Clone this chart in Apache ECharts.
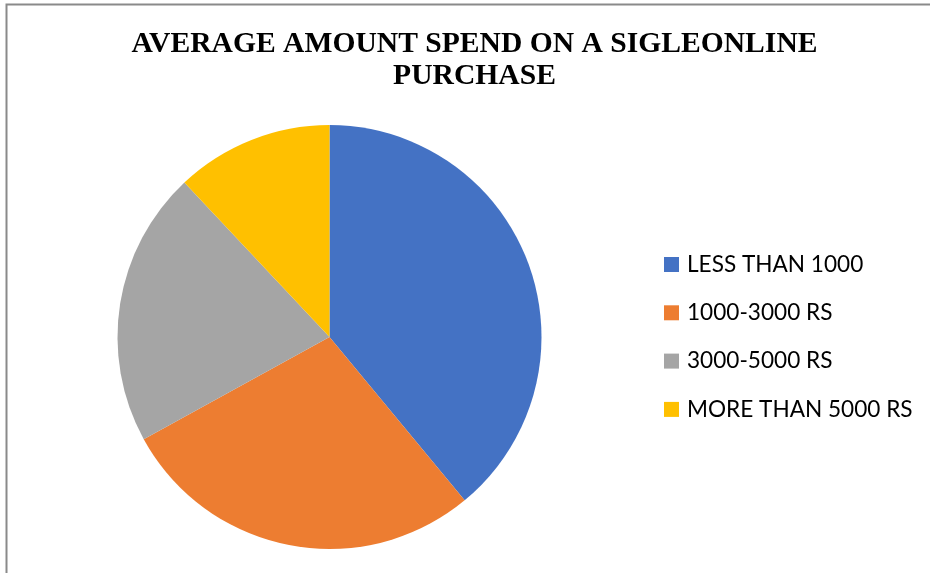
<!DOCTYPE html>
<html>
<head>
<meta charset="utf-8">
<script src="https://cdn.jsdelivr.net/npm/echarts@6/dist/echarts.min.js"></script>
<style>
  html, body { margin: 0; padding: 0; background: #ffffff; }
  #chart { width: 930px; height: 573px; }
</style>
</head>
<body>
<div id="chart"></div>
<script>
// Share of respondents by typical spend on one online purchase (%)
const categories = ['LESS THAN 1000', '1000-3000 RS', '3000-5000 RS', 'MORE THAN 5000 RS'];
const shares = [39, 28, 21, 12];
const sliceColors = ['#4472C4', '#ED7D31', '#A5A5A5', '#FFC000'];
const chartTitle = 'AVERAGE AMOUNT SPEND ON A SIGLEONLINE\nPURCHASE';

const chart = echarts.init(document.getElementById('chart'), null, { renderer: 'canvas' });

chart.setOption({
  backgroundColor: '#ffffff',
  animation: false,
  color: sliceColors,
  title: {
    text: chartTitle,
    left: 469.5,
    top: 23,
    textAlign: 'center',
    textStyle: {
      fontFamily: '"Liberation Serif", "Times New Roman", serif',
      fontWeight: 'bold',
      fontSize: 29.6,
      lineHeight: 32,
      color: '#000000'
    }
  },
  legend: {
    orient: 'vertical',
    left: 659,
    top: 248,
    padding: 5,
    icon: 'rect',
    itemWidth: 15,
    itemHeight: 15,
    itemGap: 25.3,
    selectedMode: false,
    data: categories,
    textStyle: {
      fontFamily: 'Lato, "Open Sans", sans-serif',
      fontSize: 22.6,
      color: '#000000',
      padding: [0, 0, 0, 3]
    }
  },
  graphic: [{
    type: 'polyline',
    silent: true,
    shape: { points: [[6.5, 573], [6.5, 4.5], [930, 4.5]] },
    style: { stroke: '#8a8a8a', lineWidth: 2, fill: null }
  }],
  series: [{
    type: 'pie',
    center: [329.5, 337],
    radius: 212,
    startAngle: 90,
    clockwise: true,
    label: { show: false },
    labelLine: { show: false },
    emphasis: { disabled: true },
    itemStyle: { borderWidth: 0 },
    data: categories.map((name, i) => ({ name: name, value: shares[i] }))
  }]
});
</script>
</body>
</html>
